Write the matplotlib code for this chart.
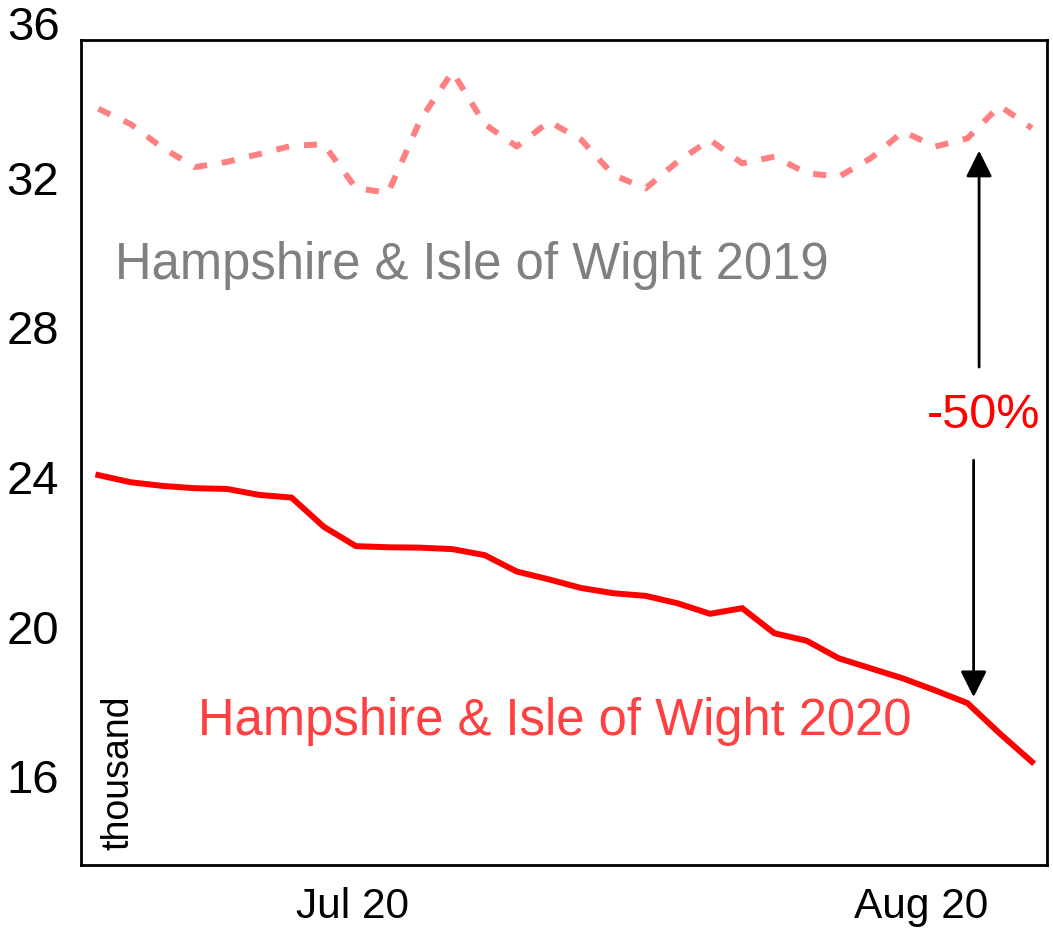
import matplotlib
matplotlib.use("Agg")
import matplotlib.pyplot as plt
import matplotlib.transforms as mtransforms

plt.rcParams['font.family'] = ['Liberation Sans', 'DejaVu Sans']

# values in thousands, one point per sample
values_2019 = [33.85, 33.44, 32.80, 32.29, 32.43, 32.64, 32.86, 32.90, 31.73, 31.60,
               33.55, 34.84, 33.44, 32.84, 33.51, 33.02, 32.08, 31.72, 32.44, 33.02,
               32.39, 32.57, 32.13, 32.03, 32.53, 33.24, 32.84, 33.06, 33.93, 33.33]
values_2020 = [24.05, 23.86, 23.76, 23.70, 23.68, 23.52, 23.45, 22.67, 22.15, 22.12,
               22.11, 22.07, 21.91, 21.47, 21.26, 21.03, 20.89, 20.82, 20.62, 20.34,
               20.49, 19.82, 19.62, 19.15, 18.88, 18.61, 18.29, 17.95, 17.14, 16.38]
x = list(range(len(values_2020)))

xtick_pos = [7.88, 25.56]
xtick_labels = ["Jul 20", "Aug 20"]
yticks = [16, 20, 24, 28, 32]

fig = plt.figure(figsize=(10.53, 9.36), dpi=100)
ax = fig.add_axes([81 / 1053, 71 / 936, 966 / 1053, 825 / 936])

ax.plot(x, values_2019, color="#ff8080", lw=4.3, linestyle=(0, (2.2, 2.5)),
        dash_capstyle="butt")
ax.plot(x, values_2020, color="#ff0000", lw=4.3, solid_joinstyle="miter")

ax.set_xlim(-0.54, 29.47)
ax.set_ylim(13.62, 35.69)

ax.set_xticks(xtick_pos)
ax.set_xticklabels(xtick_labels)
ax.set_yticks(yticks)
ax.set_yticklabels([str(t) for t in yticks])
ax.tick_params(axis="y", length=0, pad=16, labelsize=34)
ax.tick_params(axis="x", length=0, pad=16, labelsize=30.5)

# 36 sits just above the frame
trans = mtransforms.blended_transform_factory(ax.transAxes, ax.transData)
ax.text(-21 / 966, 36, "36", transform=trans, ha="right", va="center",
        fontsize=34, clip_on=False)

for sp in ax.spines.values():
    sp.set_linewidth(2)
    sp.set_color("black")

ax.text(0.52, 29.3, "Hampshire & Isle of Wight 2019", color="#808080",
        fontsize=36.5, ha="left", va="baseline")
ax.text(3.10, 17.1, "Hampshire & Isle of Wight 2020", color="#ff4040",
        fontsize=36.5, ha="left", va="baseline")
ax.text(27.5, 25.65, "-50%", color="#ff0000", fontsize=35, ha="center", va="center")
ax.text(0.61, 14.02, "thousand", rotation=90, fontsize=27, ha="center", va="bottom")

arrow = dict(arrowstyle="-|>,head_length=0.4,head_width=0.2", mutation_scale=40,
             lw=2, color="black", shrinkA=0, shrinkB=0)
ax.annotate("", xy=(27.36, 32.73), xytext=(27.36, 26.94), arrowprops=arrow)
ax.annotate("", xy=(27.19, 18.11), xytext=(27.19, 24.45), arrowprops=arrow)

fig.savefig("out.png", dpi=100)
